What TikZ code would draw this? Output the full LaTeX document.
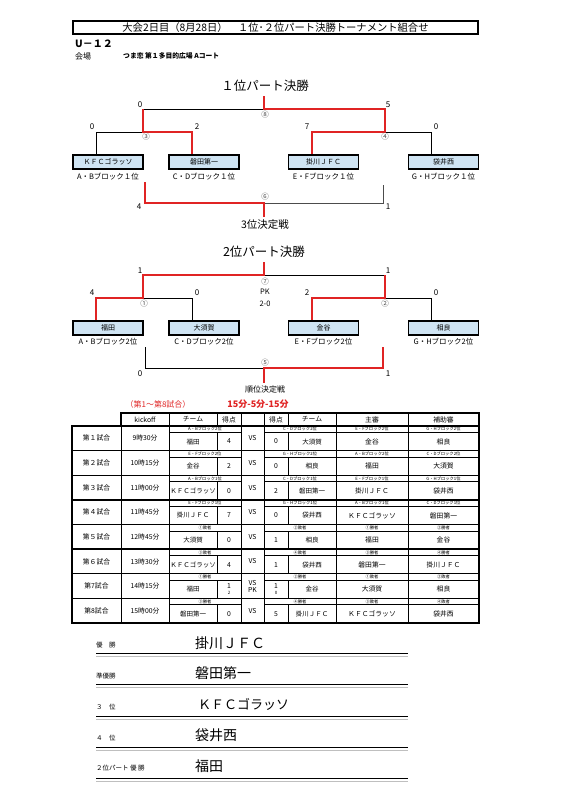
\documentclass[tikz,border=0pt]{standalone}
\usepackage{fontspec}
\setmainfont{Noto Sans CJK JP}
\definecolor{bred}{HTML}{E02424}
\definecolor{bfill}{HTML}{CFE4F3}
\newcommand\myfs[1]{\fontsize{#1}{#1}\selectfont}
\tikzset{
 win/.style={bred,line width=2.3pt,line join=miter},
 lose/.style={black,line width=0.7pt},
 team/.style={draw,line width=1.3pt,fill=bfill,minimum width=70pt,minimum height=14pt,inner sep=0pt,font=\myfs{7}},
 blk/.style={font=\myfs{7.5},inner sep=0pt},
 sc/.style={font=\myfs{8},inner sep=0pt},
 circ/.style={font=\myfs{7.5},text=black!70,inner sep=0pt},
 btitle/.style={font=\myfs{12.5},inner sep=0pt},
 cell/.style={font=\myfs{6.8},inner sep=0pt,align=center},
 subc/.style={font=\myfs{4.3},inner sep=0pt},
 thk/.style={line width=1.3pt},
 thn/.style={line width=0.7pt},
 rk/.style={font=\myfs{6.5},inner sep=0pt,anchor=west},
 rn/.style={font=\myfs{14},inner sep=0pt,anchor=west},
}
\begin{document}
\begin{tikzpicture}[x=1pt,y=-1pt]
\fill[white] (0,0) rectangle (565,800);
\useasboundingbox (0,0) rectangle (565,800);
% header
\node[draw,line width=1.3pt,minimum width=405pt,minimum height=13pt,inner sep=0pt,font=\myfs{10.3}] (hdr) at (275.5,27.5) {大会2日目（8月28日）　１位･２位パート決勝トーナメント組合せ};
\node[font=\bfseries\myfs{10},inner sep=0pt,anchor=west] (age) at (75,44) {U－１２};
\node[font=\myfs{8},inner sep=0pt,anchor=west] (ven) at (75,56) {会場};
\node[font=\bfseries\myfs{6.8},inner sep=0pt,anchor=west] (venn) at (123,56) {つま恋 第１多目的広場 Aコート};

% ===== bracket 1 =====
\node[btitle] (bt1) at (265,86) {１位パート決勝};
\node[team] (k1) at (108,162) {ＫＦＣゴラッソ};
\node[team] (k2) at (204,162) {磐田第一};
\node[team] (k3) at (323.5,162) {掛川ＪＦＣ};
\node[team] (k4) at (443.5,162) {袋井西};
\node[blk] (kb1) at (108,177) {A・Bブロック１位};
\node[blk] (kb2) at (204,177) {C・Dブロック１位};
\node[blk] (kb3) at (323.5,177) {E・Fブロック１位};
\node[blk] (kb4) at (443.5,177) {G・Hブロック１位};
\coordinate (s8) at (264,96);
\coordinate (f8) at (264,109);
\coordinate (a8) at (143,109);
\coordinate (b8) at (385,109);
\coordinate (m3) at (143,132);
\coordinate (m4) at (385,132);
\coordinate (l1) at (96,132);
\coordinate (l2) at (192,132);
\coordinate (l3) at (312,132);
\coordinate (l4) at (431,132);
\draw[lose] (a8) -- (f8);
\draw[lose] (m3) -- (l1) -- (l1 |- k1.north);
\draw[lose] (m4) -- (l4) -- (l4 |- k4.north);
\draw[win] (s8) -- (f8) -- (b8) -- (m4) -- (l3) -- (l3 |- k3.north);
\draw[win] (a8) -- (m3) -- (l2) -- (l2 |- k2.north);
\node[sc] (n1) at (140,105) {0};
\node[sc] (n2) at (388,105) {5};
\node[circ] (c8) at (265,115) {⑧};
\node[sc] (n3) at (92,127) {0};
\node[sc] (n4) at (197,127) {2};
\node[sc] (n5) at (307,127) {7};
\node[sc] (n6) at (436,127) {0};
\node[circ] (c3) at (146,137) {③};
\node[circ] (c4) at (385,137) {④};
% third place
\coordinate (p1) at (145,182);
\coordinate (p2) at (145,203);
\coordinate (p6) at (264,203);
\coordinate (p7) at (264,217);
\coordinate (q1) at (383,185);
\coordinate (q2) at (383,203);
\draw[lose,black!70] (p6) -- (q2) -- (q1);
\draw[win] (p1) -- (p2) -- (p6) -- (p7);
\node[circ] (c6) at (265,197) {⑥};
\node[sc] (n7) at (139,207) {4};
\node[sc] (n8) at (388,207) {1};
\node[font=\myfs{10.5},inner sep=0pt] (third) at (265,225) {3位決定戦};

% ===== bracket 2 =====
\node[btitle] (bt2) at (264,252) {2位パート決勝};
\node[team] (g1) at (108,328) {福田};
\node[team] (g2) at (204,328) {大須賀};
\node[team] (g3) at (323.5,328) {金谷};
\node[team] (g4) at (443.5,328) {相良};
\node[blk] (gb1) at (108,342) {A・Bブロック2位};
\node[blk] (gb2) at (204,342) {C・Dブロック2位};
\node[blk] (gb3) at (323.5,342) {E・Fブロック2位};
\node[blk] (gb4) at (443.5,342) {G・Hブロック2位};
\coordinate (s7) at (264,262);
\coordinate (f7) at (264,275);
\coordinate (a7) at (143,275);
\coordinate (b7) at (385,275);
\coordinate (m1) at (143,298);
\coordinate (m2) at (385,298);
\coordinate (h1) at (96,298);
\coordinate (h2) at (192,298);
\coordinate (h3) at (312,298);
\coordinate (h4) at (431,298);
\draw[lose] (f7) -- (b7);
\draw[lose] (m1) -- (h2) -- (h2 |- g2.north);
\draw[lose] (m2) -- (h4) -- (h4 |- g4.north);
\draw[win] (s7) -- (f7) -- (a7) -- (m1) -- (h1) -- (h1 |- g1.north);
\draw[win] (b7) -- (m2) -- (h3) -- (h3 |- g3.north);
\node[sc] (o1) at (140,271) {1};
\node[sc] (o2) at (388,271) {1};
\node[circ] (c7) at (265,282) {⑦};
\node[font=\myfs{7.5},inner sep=0pt] (pk) at (265,292) {PK};
\node[font=\myfs{7.5},inner sep=0pt] (pks) at (265,304) {2-0};
\node[sc] (o3) at (92,293) {4};
\node[sc] (o4) at (197,293) {0};
\node[sc] (o5) at (307,293) {2};
\node[sc] (o6) at (436,293) {0};
\node[circ] (c1) at (144,304) {①};
\node[circ] (c2) at (385,304) {②};
% placement
\coordinate (r1) at (145,347);
\coordinate (r2) at (145,368);
\coordinate (r5) at (264,368);
\coordinate (r6) at (264,383);
\coordinate (u1) at (383,347);
\coordinate (u2) at (383,368);
\draw[lose] (r1) -- (r2) -- (r5);
\draw[win] (u1) -- (u2) -- (r5) -- (r6);
\node[circ] (c5) at (265,363) {⑤};
\node[sc] (o7) at (140,374) {0};
\node[sc] (o8) at (388,374) {1};
\node[font=\myfs{8},inner sep=0pt] (plc) at (265,389) {順位決定戦};

% ===== table =====
\node[font=\myfs{8},text=bred,inner sep=0pt] (tt1) at (158,404) {（第1～第8試合）};
\node[font=\bfseries\myfs{9},text=bred,inner sep=0pt] (tt2) at (258,404) {15分-5分-15分};
% header cells
\draw[thk] (121,413) rectangle (479,426);
\foreach \x in {169,217,241,264,288,336,408} \draw[thn] (\x,413) -- (\x,426);
\foreach \x/\t in {145/kickoff,193/チーム,229/得点,276/得点,312/チーム,372/主審,443.5/補助審}
  \node[cell] at (\x,419.5) {\t};
% grid
\foreach \x in {121,169,241,264,336,408} \draw[thn] (\x,426) -- (\x,623);
\foreach \Ai/\Ano/\Ako/\Alt/\Aln/\Als/\Avs/\Ars/\Arn/\Art/\Amt/\Amn/\Aat/\Aan in {
 1/第１試合/9時30分/A・Bブロック2位/福田/4/VS/0/大須賀/C・Dブロック2位/E・Fブロック2位/金谷/G・Hブロック2位/相良,
 2/第２試合/10時15分/E・Fブロック2位/金谷/2/VS/0/相良/G・Hブロック2位/A・Bブロック2位/福田/C・Dブロック2位/大須賀,
 3/第３試合/11時00分/A・Bブロック1位/ＫＦＣゴラッソ/0/VS/2/磐田第一/C・Dブロック1位/E・Fブロック1位/掛川ＪＦＣ/G・Hブロック1位/袋井西,
 4/第４試合/11時45分/E・Fブロック1位/掛川ＪＦＣ/7/VS/0/袋井西/G・Hブロック1位/A・Bブロック1位/ＫＦＣゴラッソ/C・Dブロック1位/磐田第一,
 5/第５試合/12時45分/①敗者/大須賀/0/VS/1/相良/②敗者/①勝者/福田/②勝者/金谷,
 6/第６試合/13時30分/③敗者/ＫＦＣゴラッソ/4/VS/1/袋井西/④敗者/③勝者/磐田第一/④勝者/掛川ＪＦＣ,
 7/第7試合/14時15分/①勝者/福田/{1\\[-1pt]{\myfs{4.5}2}}/{VS\\PK}/{1\\[-1pt]{\myfs{4.5}0}}/金谷/②勝者/①敗者/大須賀/②敗者/相良,
 8/第8試合/15時00分/③勝者/磐田第一/0/VS/5/掛川ＪＦＣ/④勝者/③敗者/ＫＦＣゴラッソ/④敗者/袋井西}
{
 \pgfmathsetmacro\Ty{426+24.625*(\Ai-1)}
 \pgfmathsetmacro\Sy{\Ty+6.5}
 \pgfmathsetmacro\By{\Ty+24.625}
 \pgfmathsetmacro\My{(\Sy+\By)/2}
 \pgfmathsetmacro\Cy{(\Ty+\By)/2}
 \draw[line width=1pt] (169,\Sy) -- (241,\Sy) (264,\Sy) -- (479,\Sy);
 \draw[thn] (217,\Sy) -- (217,\By) (288,\Sy) -- (288,\By);
 \draw[thk] (72,\By) -- (479,\By);
 \node[cell] at (96.5,\Cy) {\Ano};
 \node[cell] at (145,\Cy) {\Ako};
 \node[cell] at (252.5,\Cy) {\Avs};
 \node[subc] at (205,\Ty+3.3) {\Alt};
 \node[subc] at (300,\Ty+3.3) {\Art};
 \node[subc] at (372,\Ty+3.3) {\Amt};
 \node[subc] at (443.5,\Ty+3.3) {\Aat};
 \node[cell,font=\myfs{6.5}] at (193,\My) {\Aln};
 \node[cell] at (229,\My) {\Als};
 \node[cell] at (276,\My) {\Ars};
 \node[cell,font=\myfs{6.5}] at (312,\My) {\Arn};
 \node[cell] at (372,\My) {\Amn};
 \node[cell] at (443.5,\My) {\Aan};
}
\draw[thk] (72,426) rectangle (479,623);

% ===== results =====
\foreach \y in {653,684,716,747,778} {
 \draw[line width=0.8pt] (96,\y) -- (408,\y);
 \draw[line width=0.4pt,black!25] (96,\y+3) -- (408,\y+3);
}
\node[rk] (rk1) at (96,645) {優　勝};
\node[rk] (rk2) at (96,676) {準優勝};
\node[rk] (rk3) at (96,707) {３　位};
\node[rk] (rk4) at (96,738) {４　位};
\node[rk] (rk5) at (96,768) {２位パート 優 勝};
\node[rn] (w1) at (195,643) {掛川ＪＦＣ};
\node[rn] (w2) at (195,673) {磐田第一};
\node[rn,font=\myfs{13}] (w3) at (198,704) {ＫＦＣゴラッソ};
\node[rn] (w4) at (195,735) {袋井西};
\node[rn] (w5) at (195,766) {福田};
\end{tikzpicture}
\end{document}
